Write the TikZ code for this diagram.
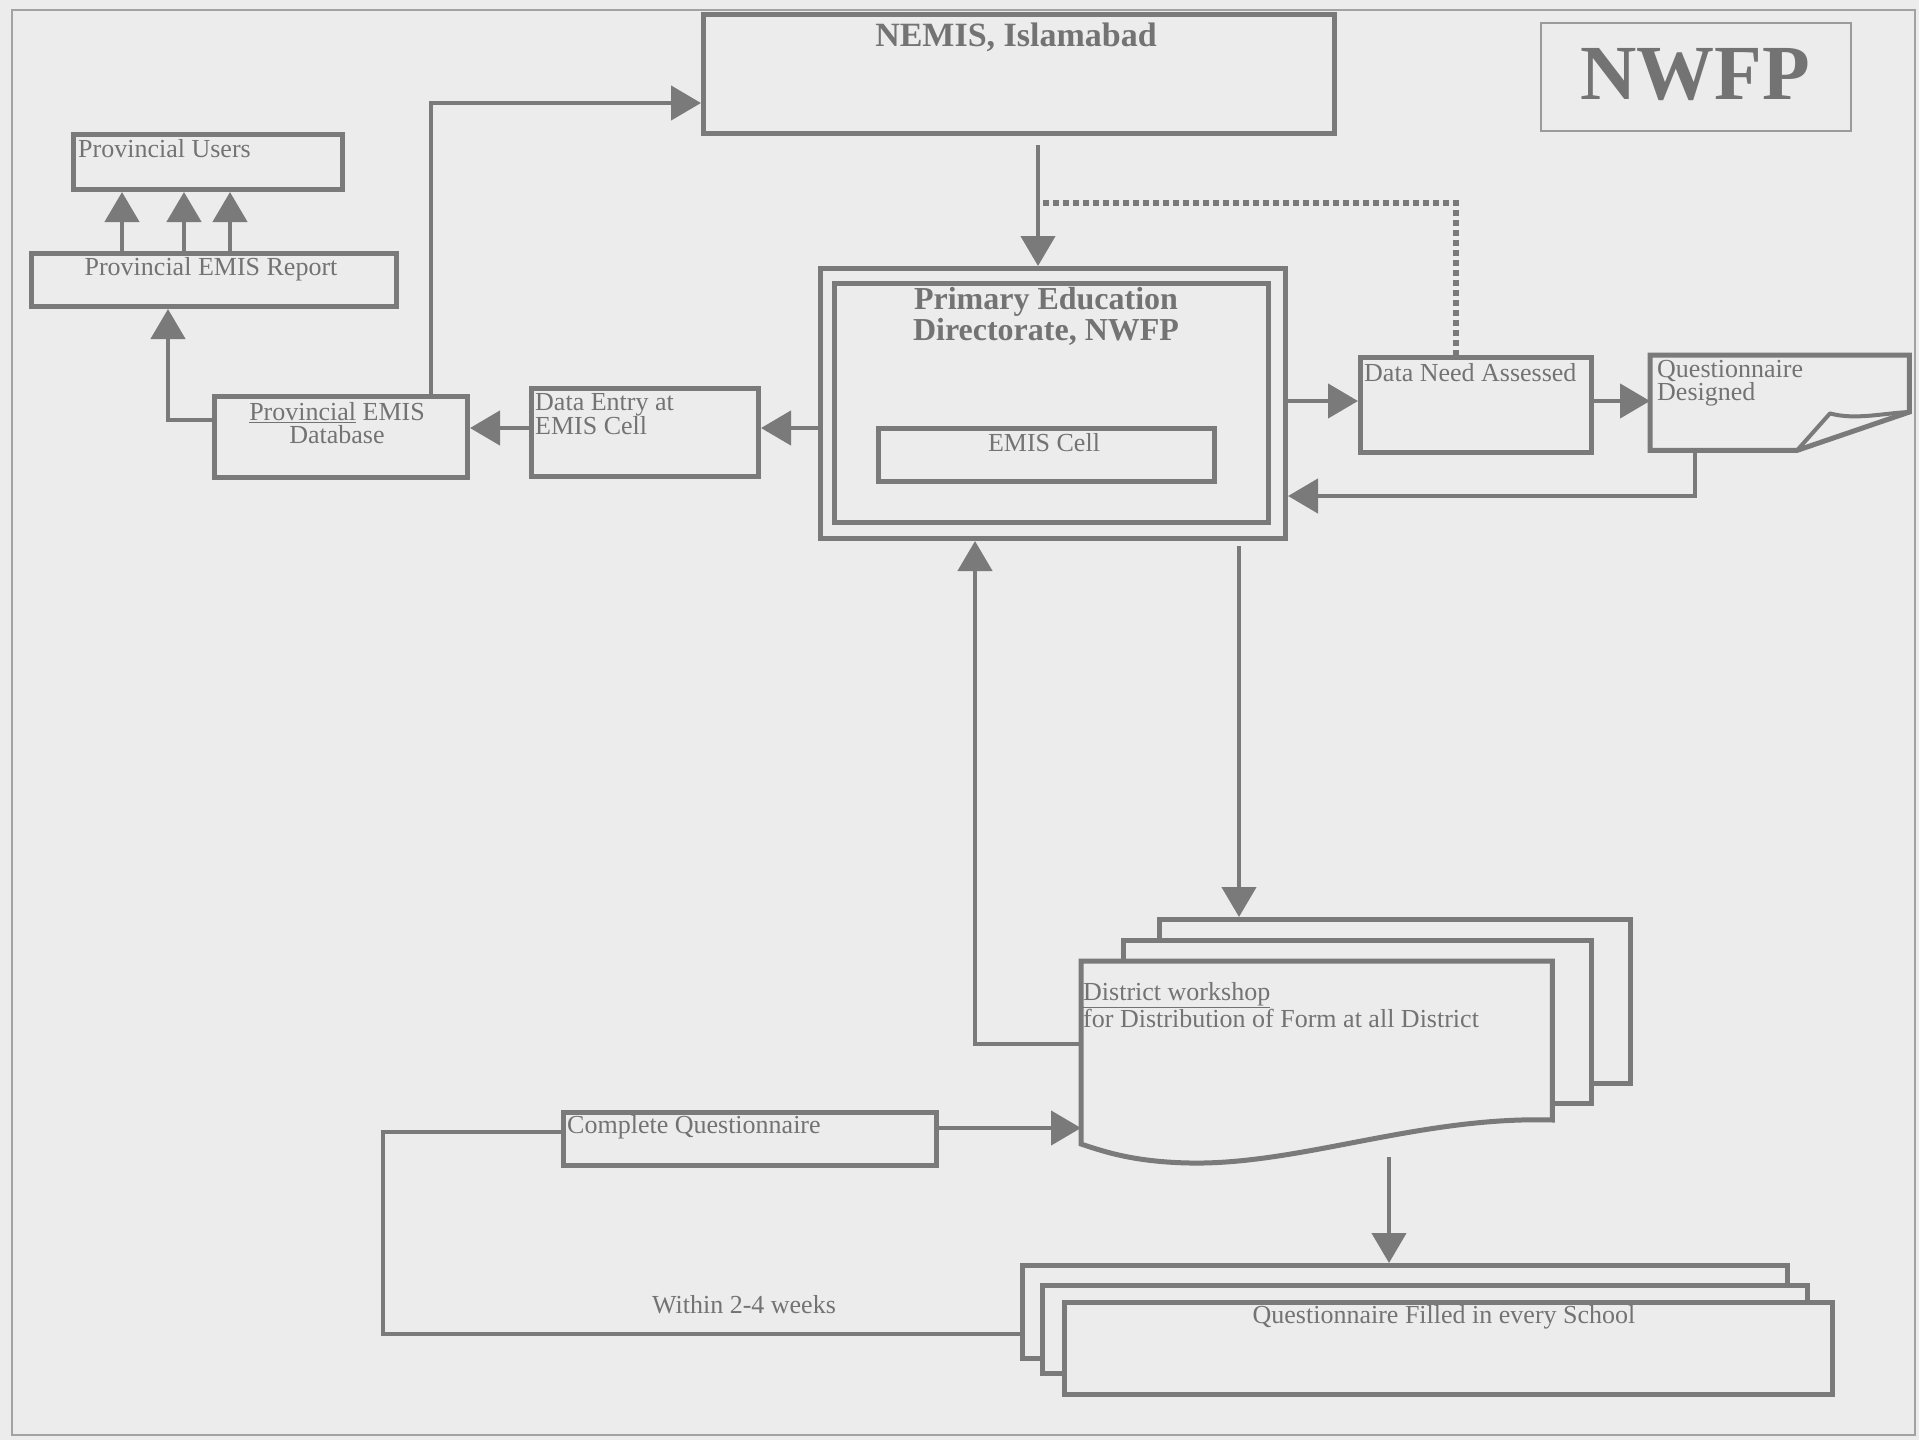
\documentclass[tikz,border=0pt]{standalone}
\usepackage{fontspec}
\setmainfont{Liberation Serif}
\usetikzlibrary{arrows.meta,calc}
\definecolor{bg}{RGB}{236,236,236}
\definecolor{ln}{RGB}{122,122,122}
\definecolor{tx}{RGB}{115,115,115}
\tikzset{
  box/.style={draw=ln, line width=5pt, inner sep=0pt, anchor=north west, fill=bg},
  ghost/.style={inner sep=0pt, anchor=north west},
  thinbox/.style={draw=ln!75, line width=1.6pt, inner sep=0pt, anchor=north west},
  txt/.style={text=tx, font=\fontsize{26}{23}\selectfont, inner sep=0pt},
  btxt/.style={text=tx, font=\fontsize{32}{31}\selectfont\bfseries, inner sep=0pt},
  conn/.style={draw=ln, line width=4.5pt},
  arr/.style={conn, -{Triangle[length=30pt,width=34pt]}},
  dots/.style={draw=ln, line width=6pt, dash pattern=on 6pt off 4pt},
}
\begin{document}
\begin{tikzpicture}[x=1pt,y=-1pt]
\useasboundingbox (0,0) rectangle (1919,1440);
\fill[bg] (0,0) rectangle (1919,1440);
\draw[ln!70, line width=2pt] (12,10) rectangle (1915,1435);

% boxes
\node[box, minimum width=631, minimum height=119] (nemis) at (701,12) {};
\node[thinbox, minimum width=310, minimum height=108] (nwfp) at (1540,22) {};
\node[box, minimum width=269, minimum height=55] (pu) at (71,132) {};
\node[box, minimum width=365, minimum height=53] (rep) at (29,251) {};
\node[box, minimum width=253, minimum height=81] (db) at (212,394) {};
\node[box, minimum width=227, minimum height=88] (de) at (529,386) {};
\node[box, minimum width=465, minimum height=270] (pedo) at (818,266) {};
\node[box, minimum width=434, minimum height=239] (pedi) at (832,281) {};
\node[box, minimum width=336, minimum height=53] (emis) at (876,426) {};
\node[box, minimum width=231, minimum height=95] (dna) at (1358,355) {};
\node[ghost, minimum width=259, minimum height=95] (qd) at (1650,355) {};
\node[box, minimum width=373, minimum height=53] (cq) at (561,1110) {};

% questionnaire designed (folded corner)
\draw[ln, line width=5pt, fill=bg, line join=miter]
  (qd.north west) -- (qd.north east) -- ($(qd.north east)+(0,57)$)
  -- ($(qd.south west)+(147,0)$) -- (qd.south west) -- cycle;
\draw[ln, line width=4pt, line join=round]
  ($(qd.south west)+(147,0)$) -- ($(qd.south west)+(180,-37)$)
  .. controls ($(qd.south west)+(205,-30)$) and ($(qd.north east)+(-25,58)$) .. ($(qd.north east)+(0,57)$);

% district workshop stack
\node[box, minimum width=471, minimum height=164] (distb) at (1157,917) {};
\node[box, minimum width=468, minimum height=163] (distm) at (1121,938) {};
\node[ghost, minimum width=471, minimum height=183] (dist) at (1081,961) {};
\draw[ln, line width=5pt, fill=bg]
  (dist.north west) -- (dist.north east) -- ($(dist.north east)+(0,159)$)
  .. controls (1420,1116) and (1300,1165) .. (1190,1163)
  .. controls (1135,1162) and (1105,1152) .. ($(dist.north west)+(0,183)$) -- cycle;

% questionnaire filled stack
\node[box, minimum width=765, minimum height=93] (qfb) at (1020,1263) {};
\node[box, minimum width=765, minimum height=88] (qfm) at (1040,1283) {};
\node[box, minimum width=768, minimum height=92] (qf) at (1062,1300) {};

% texts
\node[btxt, font=\fontsize{34}{34}\selectfont\bfseries] (tnemis) at (1016,37) {NEMIS, Islamabad};
\node[btxt, font=\fontsize{78}{78}\selectfont\bfseries] (tnwfp) at (1695,75) {NWFP};
\node[txt, anchor=west] (tpu) at (78,149) {Provincial Users};
\node[txt] (trep) at (211,269) {Provincial EMIS Report};
\node[txt, align=center] (tdb) at (337,423) {\underline{Provincial} EMIS\\Database};
\node[txt, align=left, anchor=west] (tde) at (535,414) {Data Entry at\\EMIS Cell};
\node[btxt, align=center] (tped) at (1046,316) {Primary Education\\Directorate, NWFP};
\node[txt] (temis) at (1044,443) {EMIS Cell};
\node[txt, anchor=west] (tdna) at (1364,373) {Data Need Assessed};
\node[txt, align=left, anchor=west] (tqd) at (1657,383) {Questionnaire\\Designed};
\node[txt, align=left, anchor=west] (tdist) at (1083,1005) {\underline{District workshop}\\for Distribution of Form at all District};
\node[txt, anchor=west] (tcq) at (567,1127) {Complete Questionnaire};
\node[txt] (twk) at (744,1305) {Within 2-4 weeks};
\node[txt] (tqf) at (1444,1317) {Questionnaire Filled in every School};

% helper coordinates
\coordinate (a1) at (122,0);
\coordinate (a2) at (184,0);
\coordinate (a3) at (230,0);
\coordinate (k1) at (168,420);
\coordinate (k2) at (431,103);
\coordinate (k3) at (0,428);
\coordinate (k4) at (1038,0);
\coordinate (k5) at (1043,203);
\coordinate (k5b) at (1456,0);
\coordinate (k6) at (0,401);
\coordinate (k7) at (1695,496);
\coordinate (k8) at (1239,0);
\coordinate (k9) at (975,1044);
\coordinate (k10) at (0,1128);
\coordinate (k11) at (383,1132);
\coordinate (k12) at (383,1334);
\coordinate (k13) at (1389,0);
\coordinate (k14) at (1389,1157);

% connectors
\draw[arr] (rep.north -| a1) -- (pu.south -| a1);
\draw[arr] (rep.north -| a2) -- (pu.south -| a2);
\draw[arr] (rep.north -| a3) -- (pu.south -| a3);
\draw[arr] (db.west |- k1) -| (rep.south -| k1);
\draw[arr] (db.north -| k2) |- (nemis.west |- k2);
\draw[arr] (de.west |- k3) -- (db.east |- k3);
\draw[arr] (pedo.west |- k3) -- (de.east |- k3);
\draw[arr, shorten <=9pt] (nemis.south -| k4) -- (pedo.north -| k4);
\draw[dots] (k5) -| (dna.north -| k5b);
\draw[arr] (pedo.east |- k6) -- (dna.west |- k6);
\draw[arr] (dna.east |- k6) -- (qd.west |- k6);
\draw[arr] (qd.south -| k7) |- (pedo.east |- k7);
\draw[arr, shorten <=5pt] (pedo.south -| k8) -- (distb.north -| k8);
\draw[arr] (dist.west |- k9) -| (pedo.south -| k9);
\draw[arr] (cq.east |- k10) -- (dist.west |- k10);
\draw[conn, line join=miter] (cq.west |- k11) -- (k11) -- (k12) -- (qfb.west |- k12);
\draw[arr] (k14) -- (qfb.north -| k13);
\end{tikzpicture}
\end{document}
